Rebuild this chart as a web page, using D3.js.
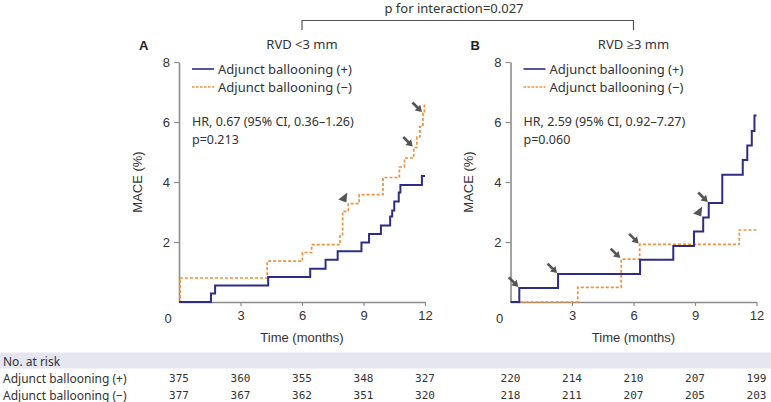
<!DOCTYPE html>
<html>
<head>
<meta charset="utf-8">
<script src="https://cdn.jsdelivr.net/npm/d3@7"></script>
<style>
  html, body { margin: 0; padding: 0; background: #fff; }
</style>
</head>
<body>
<div id="chart"></div>
<script>
// Time axis ticks (months) and MACE (%) ticks
const monthTicks = [0, 3, 6, 9, 12];
const maceTicks = [2, 4, 6, 8];

// Kaplan-Meier steps: [month, MACE %] = value from that month on
const plusA = [[0, 0], [1.56, 0.28], [1.76, 0.55], [4.35, 0.83], [6.4, 1.11], [7.15, 1.41], [7.74, 1.69],
  [8.9, 1.98], [9.27, 2.27], [9.85, 2.55], [10.3, 2.85], [10.4, 3.05], [10.5, 3.35], [10.72, 3.65],
  [10.8, 3.9], [11.85, 4.2], [12, 4.2]];
const minusA = [[0, 0], [0.05, 0.8], [4.3, 1.36], [6.02, 1.65], [6.47, 1.91], [7.85, 2.2], [7.98, 3.02],
  [8.26, 3.28], [8.79, 3.58], [9.95, 4.15], [10.75, 4.5], [11.0, 4.8], [11.45, 5.15], [11.6, 5.5],
  [11.75, 5.85], [11.9, 6.3], [11.97, 6.6], [12, 6.6]];
const plusB = [[0, 0], [0.43, 0.47], [2.32, 0.93], [6.32, 1.41], [7.94, 1.87], [8.95, 2.35], [9.4, 2.82],
  [9.67, 3.3], [10.33, 4.24], [11.33, 4.73], [11.55, 5.22], [11.77, 5.7], [11.9, 6.22], [12, 6.22]];
const minusB = [[0, 0], [3.28, 0.49], [5.4, 1.43], [6.3, 1.92], [11.16, 2.4], [12, 2.4]];

// Event markers (arrows / arrowheads) pointing at step corners
const markersA = [
  { t: 8.26, v: 3.28, kind: 'head' },
  { t: 11.45, v: 5.15, kind: 'arrow' },
  { t: 11.9, v: 6.3, kind: 'arrow' },
];
const markersB = [
  { t: 0.43, v: 0.47, kind: 'arrow' },
  { t: 2.32, v: 0.93, kind: 'arrow' },
  { t: 5.4, v: 1.43, kind: 'arrow' },
  { t: 6.3, v: 1.92, kind: 'arrow' },
  { t: 9.4, v: 2.82, kind: 'head' },
  { t: 9.67, v: 3.3, kind: 'arrow' },
];

// Number at risk
const riskPlusA = [375, 360, 355, 348, 327];
const riskMinusA = [377, 367, 362, 351, 320];
const riskPlusB = [220, 214, 210, 207, 199];
const riskMinusB = [218, 211, 207, 205, 203];

const seriesNames = ['Adjunct ballooning (+)', 'Adjunct ballooning (\u2212)'];

const width = 771;
const height = 402;
const navy = '#2e2d84';
const orange = '#f0913a';
const axisGrey = '#8c8c8c';
const textCol = '#333';
const sans = "'Noto Sans', 'Open Sans', sans-serif";
const arial = "'Liberation Sans', Arial, sans-serif";

const y = d3.scaleLinear().domain([0, 8]).range([302, 62]);

const svg = d3
  .select('#chart')
  .append('svg')
  .attr('width', width)
  .attr('height', height)
  .attr('viewBox', [0, 0, width, height]);

const panels = [
  {
    x: d3.scaleLinear().domain([0, 12]).range([179, 425]),
    letter: 'A', title: 'RVD <3 mm',
    plus: plusA, minus: minusA, markers: markersA,
    hr: 'HR, 0.67 (95% CI, 0.36\u20131.26)', p: 'p=0.213',
    riskPlus: riskPlusA, riskMinus: riskMinusA,
  },
  {
    x: d3.scaleLinear().domain([0, 12]).range([510.5, 756.5]),
    letter: 'B', title: 'RVD \u22653 mm',
    plus: plusB, minus: minusB, markers: markersB,
    hr: 'HR, 2.59 (95% CI, 0.92\u20137.27)', p: 'p=0.060',
    riskPlus: riskPlusB, riskMinus: riskMinusB,
  },
];

// interaction bracket on top
const xMidA = panels[0].x(6);
const xMidB = panels[1].x(6);
svg.append('path')
  .attr('d', `M${xMidA},30V20.5H${xMidB}V30`)
  .attr('fill', 'none')
  .attr('stroke', '#555')
  .attr('stroke-width', 1.2);
svg.append('text')
  .attr('x', 454)
  .attr('y', 8)
  .attr('text-anchor', 'middle')
  .attr('dominant-baseline', 'central')
  .attr('font-family', sans)
  .attr('font-size', 13)
  .attr('fill', textCol)
  .text('p for interaction=0.027');

// number-at-risk band
svg.append('rect')
  .attr('x', 0).attr('y', 352.5)
  .attr('width', width).attr('height', 16)
  .attr('fill', '#e6e6f1');

panels.forEach(p => {
  const x = p.x;
  const x0 = x(0);
  const g = svg.append('g');

  // panel letter and subgroup title
  g.append('text')
    .attr('x', x0 - 40).attr('y', 45)
    .attr('dominant-baseline', 'central')
    .attr('font-family', arial).attr('font-weight', 'bold')
    .attr('font-size', 13).attr('fill', '#222')
    .text(p.letter);
  g.append('text')
    .attr('x', x(6)).attr('y', 44)
    .attr('text-anchor', 'middle')
    .attr('dominant-baseline', 'central')
    .attr('font-family', sans).attr('font-size', 13).attr('fill', textCol)
    .text(p.title);

  // axes
  const yAxis = g.append('g')
    .attr('transform', `translate(${x0},0)`)
    .call(d3.axisLeft(y).tickValues(maceTicks).tickSize(5).tickSizeOuter(0));
  const xAxis = g.append('g')
    .attr('transform', `translate(0,${y(0)})`)
    .call(d3.axisBottom(x).tickValues(monthTicks.slice(1)).tickSize(4).tickSizeOuter(0));
  [yAxis, xAxis].forEach(a => {
    a.select('.domain').attr('stroke', axisGrey).attr('stroke-width', 1.6);
    a.selectAll('.tick line').attr('stroke', axisGrey).attr('stroke-width', 1.2);
    a.selectAll('.tick text')
      .attr('font-family', arial).attr('font-size', 13).attr('fill', textCol);
  });
  yAxis.selectAll('.tick text').attr('x', -9);
  xAxis.selectAll('.tick text').attr('y', 9);

  // shared origin label
  g.append('text')
    .attr('x', x0 - 11).attr('y', y(0) + 16)
    .attr('text-anchor', 'middle')
    .attr('dominant-baseline', 'central')
    .attr('font-family', arial).attr('font-size', 13).attr('fill', textCol)
    .text(monthTicks[0]);

  // axis titles
  g.append('text')
    .attr('transform', `translate(${x0 - 42},${y(4)}) rotate(-90)`)
    .attr('text-anchor', 'middle')
    .attr('dominant-baseline', 'central')
    .attr('font-family', arial).attr('font-size', 13).attr('fill', textCol)
    .text('MACE (%)');
  g.append('text')
    .attr('x', x(6)).attr('y', y(0) + 35)
    .attr('text-anchor', 'middle')
    .attr('dominant-baseline', 'central')
    .attr('font-family', arial).attr('font-size', 13).attr('fill', textCol)
    .text('Time (months)');

  // KM curves
  const line = d3.line()
    .x(d => x(d[0]))
    .y(d => y(d[1]))
    .curve(d3.curveStepAfter);
  g.append('path')
    .attr('d', line(p.minus))
    .attr('fill', 'none')
    .attr('stroke', orange)
    .attr('stroke-width', 1.7)
    .attr('stroke-dasharray', '3,2');
  g.append('path')
    .attr('d', line(p.plus))
    .attr('fill', 'none')
    .attr('stroke', navy)
    .attr('stroke-width', 2);

  // event markers
  const mk = g.append('g')
    .selectAll('g')
    .data(p.markers)
    .join('g')
    .attr('transform', d => `translate(${x(d.t)},${y(d.v)})`);
  mk.filter(d => d.kind === 'arrow').each(function () {
    const a = d3.select(this);
    a.append('line')
      .attr('x1', -10.5).attr('y1', -10.5).attr('x2', -5).attr('y2', -5)
      .attr('stroke', '#555').attr('stroke-width', 2.6);
    a.append('path')
      .attr('d', 'M-1,-1L-2.6,-8.2L-8.2,-2.6Z')
      .attr('fill', '#555');
  });
  mk.filter(d => d.kind === 'head').append('path')
    .attr('d', 'M-10,-4L-1,-11L-2,-1Z')
    .attr('fill', '#555');

  // legend
  const legend = g.append('g')
    .selectAll('g')
    .data(seriesNames)
    .join('g')
    .attr('transform', (d, i) => `translate(${x0 + 13},${69 + i * 18})`);
  legend.append('line')
    .attr('x1', 0).attr('x2', 22)
    .attr('stroke', (d, i) => (i === 0 ? navy : orange))
    .attr('stroke-width', (d, i) => (i === 0 ? 1.6 : 1.4))
    .attr('stroke-dasharray', (d, i) => (i === 0 ? null : '2.5,1.5'));
  legend.append('text')
    .attr('x', 26)
    .attr('dominant-baseline', 'central')
    .attr('font-family', sans).attr('font-size', 13).attr('fill', textCol)
    .text(d => d);

  // hazard ratio
  g.append('text')
    .attr('x', x0 + 13).attr('y', 121)
    .attr('dominant-baseline', 'central')
    .attr('font-family', sans).attr('font-size', 12.5).attr('fill', textCol)
    .text(p.hr);
  g.append('text')
    .attr('x', x0 + 13).attr('y', 139)
    .attr('dominant-baseline', 'central')
    .attr('font-family', sans).attr('font-size', 12.5).attr('fill', textCol)
    .text(p.p);

  // number at risk values, one column per month tick
  [p.riskPlus, p.riskMinus].forEach((row, r) => {
    g.append('g')
      .selectAll('text')
      .data(row)
      .join('text')
      .attr('x', (d, i) => x(monthTicks[i]))
      .attr('y', 378 + r * 17)
      .attr('text-anchor', 'middle')
      .attr('dominant-baseline', 'central')
      .attr('font-family', "'DejaVu Sans Mono', monospace")
      .attr('font-size', 11)
      .attr('fill', textCol)
      .text(d => d);
  });
});

// table row labels
svg.append('g')
  .selectAll('text')
  .data(['No. at risk'].concat(seriesNames))
  .join('text')
  .attr('x', 3)
  .attr('y', (d, i) => 361 + i * 17)
  .attr('dominant-baseline', 'central')
  .attr('font-family', sans)
  .attr('font-size', 12)
  .attr('fill', textCol)
  .text(d => d);
</script>
</body>
</html>
